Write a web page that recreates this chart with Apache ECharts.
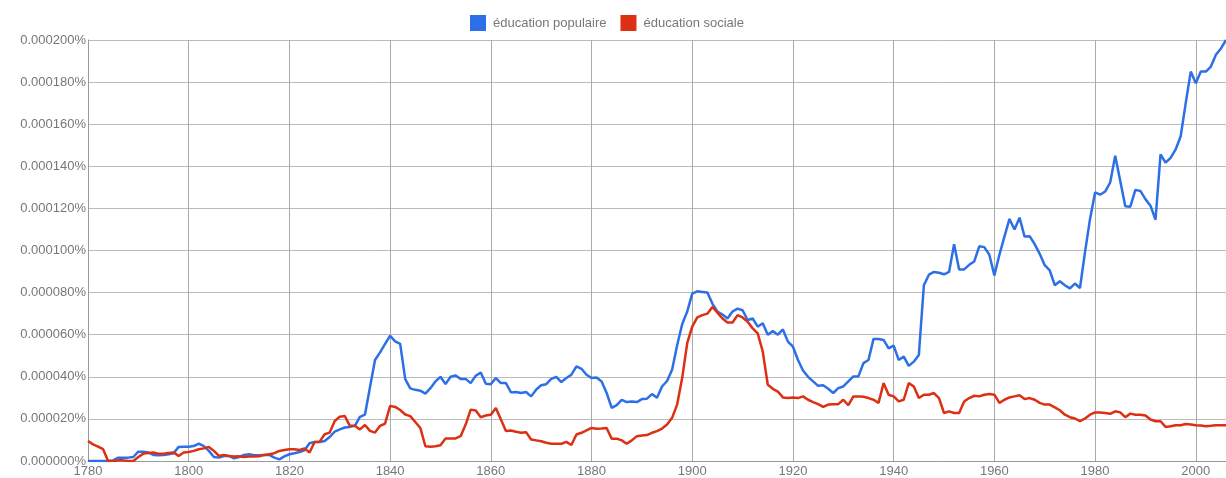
<!DOCTYPE html>
<html>
<head>
<meta charset="utf-8">
<script src="https://cdn.jsdelivr.net/npm/echarts@6/dist/echarts.min.js"></script>
<style>
html,body{margin:0;padding:0;background:#fff;}
#chart{width:1226px;height:478px;}
</style>
</head>
<body>
<div id="chart"></div>
<script>
// Years 1780..2006
var startYear = 1780;
var endYear = 2006;
var seriesNames = ['éducation populaire', 'éducation sociale'];
// Values in millionths of a percent (20 = 0.000020%)
var populaire = [
  0, 0, 0, 0, 0, 0.3, 1.6, 1.6, 1.6, 1.9,
  4.4, 4.4, 4.0, 2.9, 2.7, 2.9, 3.2, 3.7, 6.7, 6.8,
  6.8, 7.1, 8.3, 7.1, 4.8, 1.9, 1.6, 2.4, 2.4, 1.3,
  1.9, 2.9, 3.2, 2.7, 2.7, 2.9, 2.9, 1.6, 0.8, 2.2,
  3.2, 3.7, 4.3, 5.1, 8.4, 9.0, 9.0, 9.5, 11.4, 14.0,
  15.0, 15.9, 16.2, 16.7, 21.0, 22.0, 35.0, 48.0, 51.6, 55.6,
  59.5, 56.8, 55.6, 38.9, 34.5, 33.8, 33.4, 32.0, 34.6, 37.8,
  40.0, 36.5, 40.0, 40.6, 39.0, 39.0, 37.0, 40.5, 42.0, 36.7,
  36.5, 39.4, 37.0, 37.0, 32.6, 32.8, 32.3, 32.8, 30.7, 33.9,
  36.0, 36.5, 39.0, 40.0, 37.5, 39.4, 41.0, 45.0, 43.8, 41.0,
  39.4, 39.7, 37.8, 32.3, 25.2, 26.5, 29.0, 28.0, 28.3, 28.0,
  29.4, 29.6, 31.8, 30.0, 35.4, 38.0, 43.3, 55.0, 65.0, 71.0,
  79.5, 80.6, 80.3, 80.0, 74.8, 71.0, 69.6, 67.7, 71.0, 72.4,
  71.6, 67.0, 67.7, 63.8, 65.4, 60.0, 61.7, 60.0, 62.5, 56.7,
  54.3, 48.0, 43.0, 40.0, 37.8, 35.7, 36.0, 34.3, 32.3, 34.6,
  35.4, 37.8, 40.2, 40.2, 46.5, 48.0, 58.0, 58.0, 57.5, 53.5,
  54.8, 48.0, 49.6, 45.2, 47.2, 50.4, 83.5, 88.5, 89.8, 89.4,
  88.7, 89.8, 103.0, 91.0, 91.0, 93.2, 94.8, 102.0, 101.6, 98.0,
  88.2, 98.0, 106.6, 115.0, 110.0, 115.6, 106.6, 106.8, 103.0, 98.4,
  93.0, 90.6, 83.5, 85.4, 83.5, 82.0, 84.3, 82.2, 99.2, 115.0,
  127.6, 126.5, 128.0, 132.3, 145.0, 133.0, 121.0, 120.8, 128.8, 128.3,
  124.4, 121.3, 114.6, 145.7, 141.7, 144.0, 148.0, 154.3, 170.0, 185.0,
  179.5, 185.0, 185.0, 187.4, 193.0, 196.0, 200.0
];
var sociale = [
  9.5, 7.9, 6.8, 5.6, 0, 0, 0.3, 0.3, 0, 0,
  1.9, 3.5, 3.8, 4.0, 3.5, 3.5, 3.8, 4.1, 2.4, 4.0,
  4.3, 4.8, 5.6, 6.0, 6.7, 4.8, 2.4, 2.9, 2.4, 2.1,
  2.2, 1.9, 2.1, 2.1, 2.2, 2.9, 3.2, 3.7, 4.8, 5.2,
  5.6, 5.6, 5.2, 6.0, 4.0, 9.0, 9.2, 12.7, 13.5, 19.0,
  21.0, 21.4, 16.7, 16.7, 15.0, 17.1, 14.3, 13.5, 16.7, 17.8,
  26.2, 25.7, 24.2, 22.1, 21.3, 18.5, 15.7, 7.0, 6.8, 7.0,
  7.5, 10.7, 10.7, 10.7, 11.8, 17.3, 24.4, 24.0, 20.8, 21.6,
  22.0, 25.2, 19.7, 14.2, 14.5, 13.9, 13.4, 13.7, 10.2, 9.8,
  9.4, 8.7, 8.2, 8.2, 8.2, 9.1, 7.6, 12.6, 13.4, 14.5,
  15.7, 15.3, 15.4, 15.7, 10.6, 10.6, 9.8, 8.2, 9.8, 11.8,
  12.1, 12.3, 13.4, 14.2, 15.4, 17.3, 20.5, 26.8, 39.4, 56.0,
  63.8, 68.2, 69.3, 70.0, 73.2, 70.5, 67.7, 65.8, 65.8, 69.3,
  68.2, 66.1, 63.0, 60.6, 52.0, 36.2, 34.3, 33.0, 30.2, 29.9,
  30.2, 29.9, 30.7, 29.1, 28.0, 27.0, 25.7, 26.8, 27.0, 27.0,
  29.1, 26.5, 30.7, 30.7, 30.5, 29.9, 29.1, 27.6, 37.0, 31.5,
  30.7, 28.3, 29.1, 37.0, 35.4, 29.9, 31.5, 31.5, 32.3, 29.9,
  22.8, 23.6, 22.8, 22.8, 28.3, 29.9, 31.0, 30.7, 31.5, 31.8,
  31.5, 27.6, 29.1, 30.2, 30.7, 31.2, 29.4, 29.9, 29.1, 27.6,
  26.8, 26.8, 25.5, 24.1, 22.0, 20.8, 20.2, 18.9, 20.2, 22.0,
  23.1, 23.0, 22.8, 22.4, 23.6, 23.1, 20.8, 22.5, 22.0, 22.0,
  21.6, 19.7, 18.9, 18.9, 16.2, 16.5, 17.0, 17.0, 17.6, 17.3,
  17.0, 16.9, 16.5, 16.7, 17.0, 17.0, 17.0
];
var xTicks = [1780, 1800, 1820, 1840, 1860, 1880, 1900, 1920, 1940, 1960, 1980, 2000];

var years = [];
for (var y = startYear; y <= endYear; y++) years.push(y);
function pairs(vals) { return years.map(function (yr, i) { return [yr, vals[i]]; }); }

var chart = echarts.init(document.getElementById('chart'), null, {renderer: 'canvas'});
var font = 'Arial, "Liberation Sans", sans-serif';
chart.setOption({
  animation: false,
  backgroundColor: '#ffffff',
  color: ['#2c6fe6', '#dd2f12'],
  legend: {
    data: seriesNames,
    top: 10,
    left: 465,
    icon: 'rect',
    itemWidth: 16,
    itemHeight: 16,
    itemGap: 14,
    textStyle: {color: '#777', fontSize: 13, fontFamily: font, padding: [0, 0, 0, 2]}
  },
  grid: {left: 88, right: 0, top: 40, bottom: 14, containLabel: false},
  xAxis: {
    type: 'value',
    min: startYear,
    max: endYear,
    interval: 20,
    axisLine: {show: true, lineStyle: {color: '#999', width: 1}},
    axisTick: {show: false},
    axisLabel: {
      color: '#777', fontSize: 13, fontFamily: font, margin: 4,
      showMaxLabel: false,
      formatter: function (v) { return xTicks.indexOf(v) >= 0 ? String(v) : ''; }
    },
    splitLine: {show: true, lineStyle: {color: '#aaa', width: 1}}
  },
  yAxis: {
    type: 'value',
    min: 0,
    max: 200,
    interval: 20,
    axisLine: {show: true, lineStyle: {color: '#999', width: 1}},
    axisTick: {show: false},
    axisLabel: {
      color: '#777', fontSize: 13, fontFamily: font, margin: 2,
      formatter: function (v) { return (v / 1e6).toFixed(6) + '%'; }
    },
    splitLine: {show: true, lineStyle: {color: '#bbb', width: 1}}
  },
  series: [
    {name: seriesNames[0], type: 'line', data: pairs(populaire), showSymbol: false,
     lineStyle: {width: 2.5}, emphasis: {disabled: true}},
    {name: seriesNames[1], type: 'line', data: pairs(sociale), showSymbol: false,
     lineStyle: {width: 2.5}, emphasis: {disabled: true}}
  ]
});
</script>
</body>
</html>
